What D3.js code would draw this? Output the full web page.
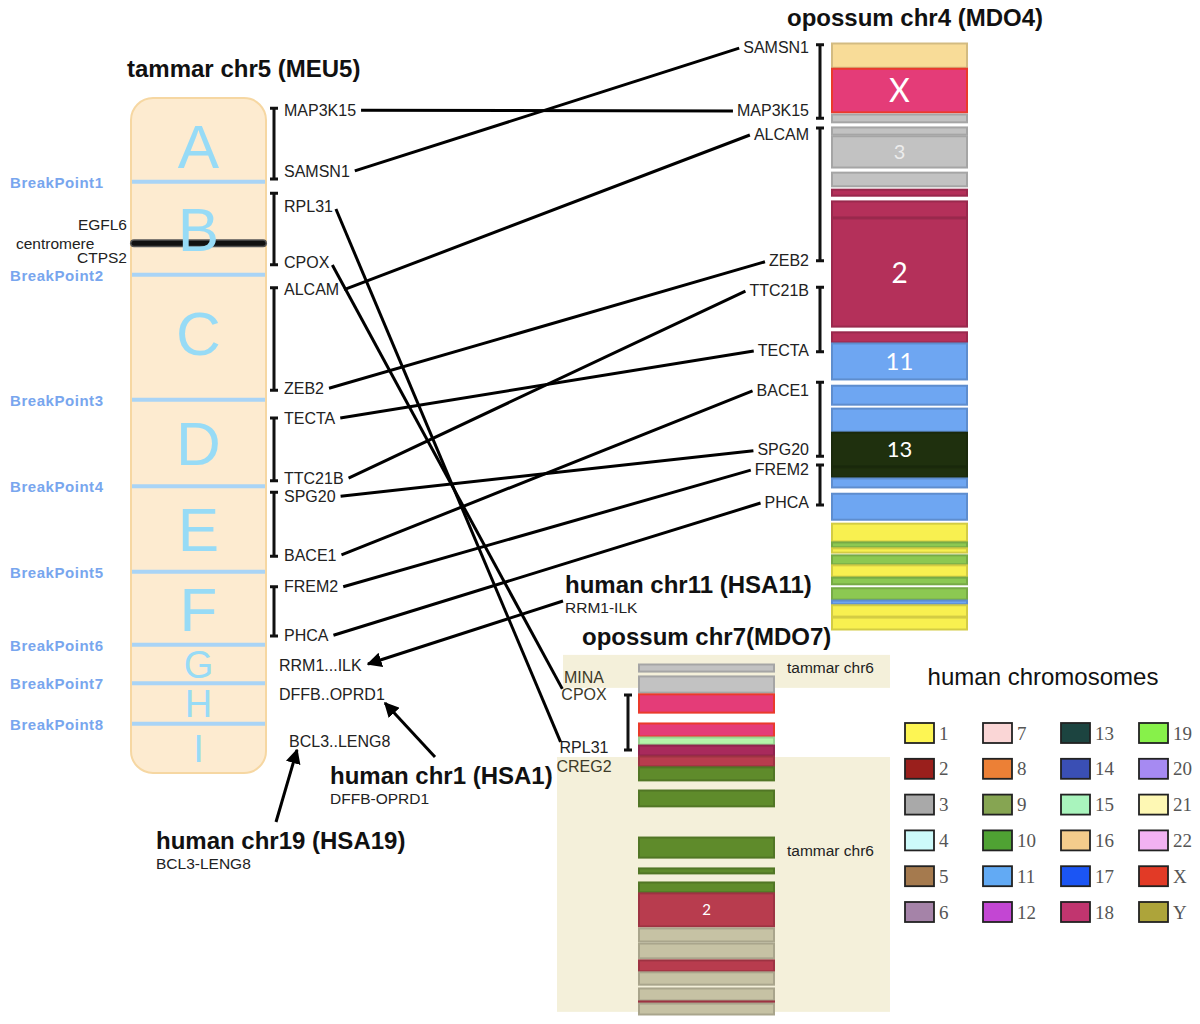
<!DOCTYPE html>
<html>
<head>
<meta charset="utf-8">
<script src="https://cdn.jsdelivr.net/npm/d3@7"></script>
<style>
  body { margin: 0; background: #fff; }
  svg { display: block; font-family: "Liberation Sans", Arial, sans-serif; }
</style>
</head>
<body>
<svg id="chart" width="1200" height="1024"></svg>
<script>
// ---- data (positions are % along each chromosome) ----
const tammarSegments = ["A", "B", "C", "D", "E", "F", "G", "H", "I"];
const breakpointLabels = ["BreakPoint1", "BreakPoint2", "BreakPoint3", "BreakPoint4",
  "BreakPoint5", "BreakPoint6", "BreakPoint7", "BreakPoint8"];
const breakpointPos = [12.4, 26.2, 44.7, 57.5, 70.2, 81.0, 86.7, 92.7];
const centromerePos = 21.5;
const centromereGenes = ["EGFL6", "CTPS2"];
const centromereGenePos = [18.7, 23.7];

const tammarGenes = ["MAP3K15", "SAMSN1", "RPL31", "CPOX", "ALCAM", "ZEB2", "TECTA", "TTC21B",
  "SPG20", "BACE1", "FREM2", "PHCA", "RRM1...ILK", "DFFB..OPRD1", "BCL3..LENG8"];
const tammarGenePos = [1.8, 10.8, 16.0, 24.3, 28.4, 43.0, 47.4, 56.3,
  59.0, 67.7, 72.4, 79.6, 84.0, 88.4, 95.3];
const tammarBlocks = [[1.5, 12.0], [14.1, 24.7], [28.1, 43.3], [47.4, 56.7], [58.4, 67.9], [72.4, 79.7]];

const mdo4Genes = ["SAMSN1", "MAP3K15", "ALCAM", "ZEB2", "TTC21B", "TECTA", "BACE1", "SPG20", "FREM2", "PHCA"];
const mdo4GenePos = [0.7, 11.4, 15.5, 37.1, 42.1, 52.3, 59.1, 69.3, 72.6, 78.2];
const mdo4Blocks = [[0.3, 12.8], [14.5, 37.1], [41.6, 52.6], [57.8, 70.4], [71.9, 78.7]];

const mdo4BandStart = [0, 4.3, 12.1, 14.3, 15.8, 22.0, 24.9, 26.9, 29.8, 49.2, 51.1, 58.3, 62.2, 66.3, 72.2,
  74.1, 76.7, 81.8, 85.0, 86.0, 87.2, 88.9, 91.0, 92.8, 94.9, 95.7, 97.8];
const mdo4BandEnd = [4.3, 11.9, 13.6, 15.7, 21.3, 24.5, 26.1, 29.8, 48.4, 51.1, 57.4, 61.7, 66.3, 72.2, 74.1,
  75.8, 81.3, 85.0, 86.0, 86.9, 88.9, 91.0, 92.3, 94.9, 95.7, 97.8, 100];
const mdo4BandChr = ["16", "X", "3", "3", "3", "3", "2", "2", "2", "2", "11", "11", "11", "13", "13",
  "11", "11", "1", "10", "1", "10", "1", "10", "10", "11", "1", "1"];
const mdo4BandLabel = ["", "X", "", "", "3", "", "", "", "2", "", "11", "", "", "13", "",
  "", "", "", "", "", "", "", "", "", "", "", ""];

const mdo7Genes = ["MINA", "CPOX", "RPL31", "CREG2"];
const mdo7GenePos = [3.7, 8.8, 23.9, 29.3];
const mdo7Blocks = [[8.8, 24.5]];
const mdo7BandStart = [0, 3.4, 8.5, 16.8, 20.8, 23.1, 26.2, 29.3, 35.9, 49.3, 58.1, 62.1, 65.2,
  75.2, 79.5, 84.3, 87.7, 92.3, 96.0, 96.6];
const mdo7BandEnd = [2.3, 8.3, 14.0, 20.8, 23.1, 26.2, 29.3, 33.3, 40.7, 55.3, 59.8, 65.2, 74.9,
  79.2, 84.0, 87.7, 91.5, 96.0, 96.6, 100];
const mdo7BandChr = ["3", "3", "X", "X", "15", "18", "2", "9", "9", "9", "9", "9", "2",
  "Y", "Y", "2", "Y", "Y", "2", "Y"];
const mdo7BandLabel = ["", "", "", "", "", "", "", "", "", "", "", "", "2",
  "", "", "", "", "", "", ""];
const tammarChr6Regions = [[-2.6, 6.8], [26.5, 99.1]];

const humanTitles = ["human chr11 (HSA11)", "human chr1 (HSA1)", "human chr19 (HSA19)"];
const humanRanges = ["RRM1-ILK", "DFFB-OPRD1", "BCL3-LENG8"];

const legendChr = ["1", "2", "3", "4", "5", "6", "7", "8", "9", "10", "11", "12",
  "13", "14", "15", "16", "17", "18", "19", "20", "21", "22", "X", "Y"];
const legendColors = ["#fdf553", "#9a1f1c", "#a9a9a9", "#cdfafa", "#a57a4e", "#a583a8",
  "#fad6d6", "#ec8036", "#86a552", "#4fa233", "#62aaf4", "#c346d3",
  "#1c4440", "#3a4fb4", "#a9f4bd", "#f4cc8c", "#1b55f4", "#c1356f",
  "#87f14a", "#a68af2", "#fef8b4", "#f2b2f2", "#e23a26", "#ada43a"];

// colours used inside the opossum chromosome paintings
const paintChr = ["16", "X", "3", "2", "18", "11", "13", "1", "10", "9", "15", "Y"];
const paint4 = d3.scaleOrdinal().domain(paintChr)
  .range(["#f8dc98", "#e43c78", "#c2c2c2", "#b4305a", "#a82a5c", "#6ea6f2", "#1f300e",
    "#f8f050", "#8cc852", "#5f8b2b", "#b4f4aa", "#c6c2a4"]);
const paint7 = paint4.copy().range(["#f8dc98", "#e43c78", "#c2c2c2", "#b83c4e", "#a82a5c", "#6ea6f2", "#1f300e",
  "#f8f050", "#8cc852", "#5f8b2b", "#b4f4aa", "#c6c2a4"]);
const legendColor = d3.scaleOrdinal().domain(legendChr).range(legendColors);

// ---- scales ----
const yT = d3.scaleLinear().domain([0, 100]).range([98, 773]);
const y4 = d3.scaleLinear().domain([0, 100]).range([43, 630]);
const y7 = d3.scaleLinear().domain([0, 100]).range([664, 1015]);

const svg = d3.select("#chart");
const defs = svg.append("defs");
defs.append("marker").attr("id", "arrow")
  .attr("viewBox", "0 -5 10 10").attr("refX", 9).attr("refY", 0)
  .attr("markerWidth", 5).attr("markerHeight", 5).attr("orient", "auto")
  .append("path").attr("d", "M0,-5L10,0L0,5Z").attr("fill", "#000");

function bracket(x, ya, yb) {
  const g = svg.append("g").attr("stroke", "#111").attr("stroke-width", 3).attr("fill", "none");
  g.append("path").attr("d", `M${x},${ya}V${yb}M${x - 4},${ya}H${x + 4}M${x - 4},${yb}H${x + 4}`);
}

function title(text, x, y) {
  svg.append("text").attr("x", x).attr("y", y).attr("dy", "0.35em")
    .attr("font-size", 24).attr("font-weight", "bold").attr("fill", "#111").text(text);
}

// ---- tammar chr5 ----
const tamX0 = 131, tamX1 = 266;
title("tammar chr5 (MEU5)", 127, 69);
svg.append("rect").attr("x", tamX0).attr("y", yT(0))
  .attr("width", tamX1 - tamX0).attr("height", yT(100) - yT(0)).attr("rx", 22)
  .attr("fill", "#fdebd0").attr("stroke", "#f6d7a2").attr("stroke-width", 2);

svg.selectAll(".bp").data(breakpointPos).join("line").attr("class", "bp")
  .attr("x1", tamX0 + 1).attr("x2", tamX1 - 1)
  .attr("y1", d => yT(d)).attr("y2", d => yT(d))
  .attr("stroke", "#a9d4f6").attr("stroke-width", 4);
svg.selectAll(".bpl").data(breakpointLabels).join("text").attr("class", "bpl")
  .attr("x", 10).attr("y", (d, i) => yT(breakpointPos[i]) + 1).attr("dy", "0.35em")
  .attr("font-size", 15).attr("font-weight", "bold").attr("fill", "#78a6ee")
  .attr("textLength", 93).attr("lengthAdjust", "spacing").text(d => d);

svg.append("line").attr("x1", tamX0 + 3).attr("x2", tamX1 - 3)
  .attr("y1", yT(centromerePos)).attr("y2", yT(centromerePos))
  .attr("stroke", "#555").attr("stroke-width", 8).attr("stroke-linecap", "round");
svg.append("line").attr("x1", tamX0 + 3).attr("x2", tamX1 - 3)
  .attr("y1", yT(centromerePos)).attr("y2", yT(centromerePos))
  .attr("stroke", "#111").attr("stroke-width", 5).attr("stroke-linecap", "round");

const segBounds = [0, ...breakpointPos, 100];
svg.selectAll(".seg").data(tammarSegments).join("text").attr("class", "seg")
  .attr("x", (tamX0 + tamX1) / 2)
  .attr("y", (d, i) => yT((segBounds[i] + segBounds[i + 1]) / 2) + (i === 0 ? 6 : i === 2 ? -5 : 0))
  .attr("dy", "0.36em").attr("text-anchor", "middle")
  .attr("font-size", (d, i) => yT(segBounds[i + 1]) - yT(segBounds[i]) > 60 ? 62 : 38)
  .attr("fill", "#97dbf6").text(d => d);

svg.append("text").attr("x", 16).attr("y", yT(centromerePos)).attr("dy", "0.35em")
  .attr("font-size", 15.5).attr("fill", "#222").text("centromere");
svg.selectAll(".cg").data(centromereGenes).join("text").attr("class", "cg")
  .attr("x", 127).attr("y", (d, i) => yT(centromereGenePos[i])).attr("dy", "0.35em")
  .attr("text-anchor", "end").attr("font-size", 15.5).attr("fill", "#222").text(d => d);

tammarBlocks.forEach(b => bracket(274, yT(b[0]), yT(b[1])));
const tamLabels = svg.selectAll(".tg").data(tammarGenes).join("text").attr("class", "tg")
  .attr("x", (d, i) => i >= 12 ? (i === 14 ? 289 : 279) : 284)
  .attr("y", (d, i) => yT(tammarGenePos[i])).attr("dy", "0.35em")
  .attr("font-size", 16).attr("fill", "#222").text(d => d);

// ---- opossum chr4 ----
const o4X = 831, oW = 137;
title("opossum chr4 (MDO4)", 787, 18);
const bands4 = mdo4BandStart.map((s, i) => ({ s, e: mdo4BandEnd[i], chr: mdo4BandChr[i], label: mdo4BandLabel[i] }));
const bands7 = mdo7BandStart.map((s, i) => ({ s, e: mdo7BandEnd[i], chr: mdo7BandChr[i], label: mdo7BandLabel[i] }));
const labelSize = { "X": 32, "2": 28, "3": 20, "11": 24, "13": 22 };

function drawBands(bands, y, x, cls, paint, small) {
  svg.selectAll("." + cls).data(bands).join("rect").attr("class", cls)
    .attr("x", x + 1).attr("width", oW - 2)
    .attr("y", d => y(d.s) + 0.5).attr("height", d => Math.max(1, y(d.e) - y(d.s) - 1))
    .attr("fill", d => paint(d.chr))
    .attr("stroke", d => d.chr === "X" ? "#ea3a2c" : d3.color(paint(d.chr)).darker(0.45))
    .attr("stroke-width", 2);
  svg.selectAll("." + cls + "l").data(bands.filter(d => d.label)).join("text").attr("class", cls + "l")
    .attr("x", x + oW / 2).attr("y", d => (y(d.s) + y(d.e)) / 2).attr("dy", "0.36em")
    .attr("text-anchor", "middle").attr("font-family", "Lato, 'Open Sans', sans-serif")
    .attr("font-size", d => small ? 15 : labelSize[d.label])
    .attr("fill", d => d.label === "3" ? "#ececec" : "#fff").text(d => d.label);
}
drawBands(bands4, y4, o4X, "b4", paint4, false);

mdo4Blocks.forEach(b => bracket(820, y4(b[0]), y4(b[1])));
const o4Labels = svg.selectAll(".og").data(mdo4Genes).join("text").attr("class", "og")
  .attr("x", 809).attr("y", (d, i) => y4(mdo4GenePos[i])).attr("dy", "0.35em")
  .attr("text-anchor", "end").attr("font-size", 16).attr("fill", "#222").text(d => d);

// links tammar -> MDO4
const tamLen = {}, o4Len = {};
tamLabels.each(function (d, i) { tamLen[d] = { x: +this.getAttribute("x"), w: this.getComputedTextLength(), y: yT(tammarGenePos[i]) }; });
o4Labels.each(function (d, i) { o4Len[d] = { w: this.getComputedTextLength(), y: y4(mdo4GenePos[i]) }; });
const links4 = mdo4Genes.map(g => ({
  x1: tamLen[g].x + tamLen[g].w + 5, y1: tamLen[g].y,
  x2: 809 - o4Len[g].w - 4, y2: o4Len[g].y + 1
}));
svg.selectAll(".lk").data(links4).join("line").attr("class", "lk")
  .attr("x1", d => d.x1).attr("y1", d => d.y1).attr("x2", d => d.x2).attr("y2", d => d.y2)
  .attr("stroke", "#000").attr("stroke-width", 3);

// ---- opossum chr7 ----
const o7X = 638;
svg.selectAll(".t6").data(tammarChr6Regions).join("rect").attr("class", "t6")
  .attr("x", (d, i) => i === 0 ? 563 : 557).attr("width", (d, i) => i === 0 ? 327 : 333)
  .attr("y", d => y7(d[0])).attr("height", d => y7(d[1]) - y7(d[0]))
  .attr("fill", "#f4f0da");
svg.selectAll(".t6l").data(tammarChr6Regions).join("text").attr("class", "t6l")
  .attr("x", 787).attr("y", (d, i) => i === 0 ? y7(0.9) : y7(53.1)).attr("dy", "0.35em")
  .attr("font-size", 15.5).attr("fill", "#222").text("tammar chr6");
title("opossum chr7(MDO7)", 582, 637);
drawBands(bands7, y7, o7X, "b7", paint7, true);
mdo7Blocks.forEach(b => bracket(628, y7(b[0]), y7(b[1])));
const o7Labels = svg.selectAll(".o7").data(mdo7Genes).join("text").attr("class", "o7")
  .attr("x", 584).attr("y", (d, i) => y7(mdo7GenePos[i])).attr("dy", "0.35em")
  .attr("text-anchor", "middle").attr("font-size", 16)
  .attr("fill", d => d === "RPL31" ? "#222" : "#3d3a28").text(d => d);
const o7Pos = {};
o7Labels.each(function (d, i) { o7Pos[d] = { x: 584 - this.getComputedTextLength() / 2, y: y7(mdo7GenePos[i]) }; });
const links7 = ["RPL31", "CPOX"].map(g => ({
  x1: tamLen[g].x + tamLen[g].w + 3, y1: tamLen[g].y + 3,
  x2: o7Pos[g].x + 1, y2: o7Pos[g].y - 6
}));
svg.selectAll(".lk7").data(links7).join("line").attr("class", "lk7")
  .attr("x1", d => d.x1).attr("y1", d => d.y1).attr("x2", d => d.x2).attr("y2", d => d.y2)
  .attr("stroke", "#000").attr("stroke-width", 3);

// ---- human annotations ----
const humanAnchor = [[565, 585], [330, 776], [156, 841]];
const humanArrows = [[563, 601, 368, 664], [435, 757, 385, 703], [276, 822, 297, 750]];
humanTitles.forEach((t, i) => {
  title(t, humanAnchor[i][0], humanAnchor[i][1]);
  svg.append("text").attr("x", humanAnchor[i][0]).attr("y", humanAnchor[i][1] + 23).attr("dy", "0.35em")
    .attr("font-size", 15.5).attr("fill", "#222").text(humanRanges[i]);
});
svg.selectAll(".ar").data(humanArrows).join("line").attr("class", "ar")
  .attr("x1", d => d[0]).attr("y1", d => d[1]).attr("x2", d => d[2]).attr("y2", d => d[3])
  .attr("stroke", "#000").attr("stroke-width", 3).attr("marker-end", "url(#arrow)");

// ---- legend ----
svg.append("text").attr("x", 1043).attr("y", 677).attr("dy", "0.35em").attr("text-anchor", "middle")
  .attr("font-size", 24).attr("fill", "#111").text("human chromosomes");
const leg = svg.selectAll(".lg").data(legendChr).join("g").attr("class", "lg")
  .attr("transform", (d, i) => `translate(${905 + Math.floor(i / 6) * 78},${733 + (i % 6) * 35.8})`);
leg.append("rect").attr("x", 0).attr("y", -10).attr("width", 29).attr("height", 20)
  .attr("fill", d => legendColor(d)).attr("stroke", "#222").attr("stroke-width", 1.8);
leg.append("text").attr("x", 34).attr("dy", "0.35em")
  .attr("font-family", "'Liberation Serif', serif").attr("font-size", 19).attr("fill", "#555").text(d => d);
</script>
</body>
</html>
